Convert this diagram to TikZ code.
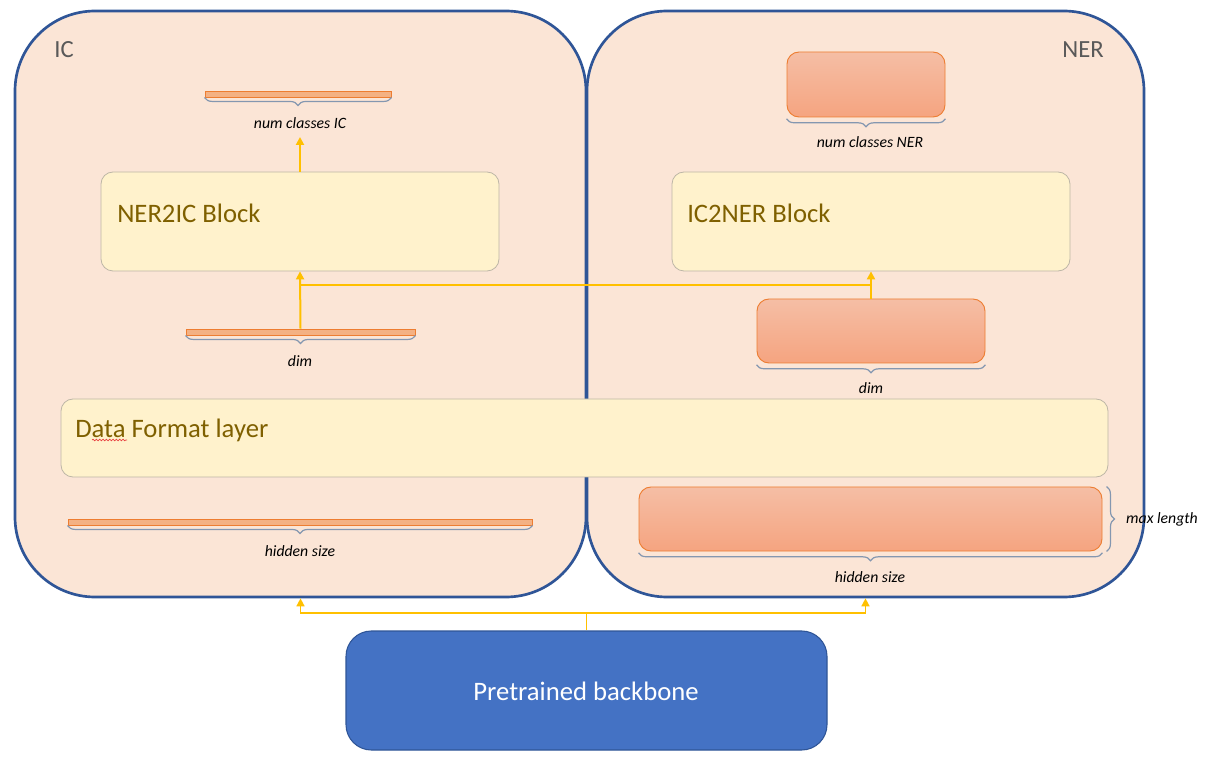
\documentclass[tikz,border=0pt]{standalone}
\usepackage{fontspec}
\setmainfont{Carlito}
\usetikzlibrary{fit,decorations.pathreplacing,decorations.pathmorphing,arrows.meta,calc}
\definecolor{peach}{HTML}{FBE5D6}
\definecolor{navy}{HTML}{2F5597}
\definecolor{cream}{HTML}{FFF2CC}
\definecolor{creamline}{HTML}{BDB6A6}
\definecolor{brown}{HTML}{7F6000}
\definecolor{orng}{HTML}{ED7D31}
\definecolor{salmonT}{HTML}{F5BEA5}
\definecolor{salmonB}{HTML}{F5A480}
\definecolor{barfill}{HTML}{F4B183}
\definecolor{braceg}{HTML}{8497B0}
\definecolor{gold}{HTML}{FFC000}
\definecolor{blueb}{HTML}{4472C4}
\definecolor{graytxt}{HTML}{595959}
\definecolor{spellred}{HTML}{E84040}
\tikzset{
  container/.style={draw=navy, line width=2pt, fill=peach, rounded corners=60pt, inner sep=0pt},
  block/.style={draw=creamline, line width=0.6pt, fill=cream, rounded corners=9pt, inner sep=0pt},
  blocktext/.style={text=brown, font=\fontsize{20}{24}\selectfont, anchor=west, inner sep=0pt},
  tensor/.style={draw=orng, line width=0.7pt, top color=salmonT, bottom color=salmonB, rounded corners=9pt, inner sep=0pt},
  flatbar/.style={draw=orng, line width=0.7pt, fill=barfill, inner sep=0pt},
  brc/.style={draw=braceg, line width=0.9pt, decorate, decoration={brace, mirror, amplitude=6pt}},
  vbrc/.style={draw=braceg, line width=0.9pt, decorate, decoration={brace, amplitude=6pt}},
  lbl/.style={font=\fontsize{11.8}{14}\selectfont\itshape, inner sep=1pt},
  conn/.style={draw=gold, line width=1.5pt},
  arr/.style={conn, -{Triangle[width=6pt,length=6pt]}},
  thinconn/.style={draw=gold, line width=1.1pt},
  thinarr/.style={thinconn, -{Triangle[width=6pt,length=6pt]}},
  title/.style={font=\fontsize{18.5}{22}\selectfont, text=graytxt, inner sep=0pt},
}
\begin{document}
\begin{tikzpicture}[x=0.75pt, y=-0.75pt]
\useasboundingbox[fill=white] (0,0) rectangle (1208,759);

% containers
\node[container, fit={(15,11) (586,597)}] (IC) {};
\node[container, fit={(587,11) (1144,597)}] (NER) {};
\node[title] (tIC) at (64,50) {IC};
\node[title] (tNER) at (1083,50) {NER};

% IC side
\node[flatbar, fit={(205,91) (391,97)}] (barICtop) {};
\draw[brc] (barICtop.south west) -- (barICtop.south east);
\node[lbl] (lICtop) at (300,123) {num classes IC};
\coordinate (cICtop) at (300,137);

\node[block, fit={(101,172) (499,271)}] (NER2IC) {};
\node[blocktext] (tNER2IC) at (117,213) {NER2IC Block};

\node[flatbar, fit={(186,329) (415,335)}] (dimIC) {};
\draw[brc] (dimIC.south west) -- (dimIC.south east);
\node[lbl] (lDimIC) at (300,361) {dim};

\node[flatbar, fit={(68,519) (532,525)}] (hidIC) {};
\draw[brc] (hidIC.south west) -- (hidIC.south east);
\node[lbl] (lHidIC) at (300,551) {hidden size};

% NER side
\node[tensor, fit={(787,52) (945,117)}] (clsNER) {};
\draw[brc] ([yshift=-1]clsNER.south west) -- ([yshift=-1]clsNER.south east);
\node[lbl] (lClsNER) at (870,142) {num classes NER};

\node[block, fit={(672,172) (1070,271)}] (IC2NER) {};
\node[blocktext] (tIC2NER) at (687,213) {IC2NER Block};

\node[tensor, fit={(757,299) (985,363)}] (dimNER) {};
\draw[brc] ([yshift=-1]dimNER.south west) -- ([yshift=-1]dimNER.south east);
\node[lbl] (lDimNER) at (871,388) {dim};

\node[tensor, fit={(639,487) (1102,551)}] (hidNER) {};
\draw[brc] ([yshift=-1]hidNER.south west) -- ([yshift=-1]hidNER.south east);
\node[lbl] (lHidNER) at (870,577) {hidden size};
\draw[vbrc] ([xshift=3]hidNER.north east) -- ([xshift=3]hidNER.south east);
\node[lbl] (lMax) at (1162,519) {max length};

% data format layer
\node[block, fit={(61,399) (1108,477)}] (DF) {};
\node[blocktext] (tDF) at (75,430) {Data Format layer};
\draw[spellred, line width=0.5pt, decorate, decoration={snake, amplitude=0.6pt, segment length=2.5pt}]
  (92,440) -- (127,440);

% backbone
\node[draw=navy, line width=0.8pt, fill=blueb, rounded corners=19pt, inner sep=0pt,
      fit={(346,631) (827,750)}] (BB) {};
\node[text=white, font=\fontsize{20}{24}\selectfont] (tBB) at (586,691) {Pretrained backbone};

% connectors
\draw[arr] (NER2IC.north) -- (cICtop);
\coordinate (jy) at (0,285);
\coordinate (j1) at (NER2IC.south |- jy);
\coordinate (j2) at (IC2NER.south |- jy);
\draw[arr] (dimIC.north) -- (NER2IC.south);
\draw[conn] (j1) -- (j2);
\draw[conn] (dimNER.north) -- (j2);
\draw[arr] (j2) -- (IC2NER.south);

\coordinate (by) at (0,613);
\coordinate (bj) at (BB.north |- by);
\draw[thinconn] (BB.north) -- (bj);
\draw[thinarr] (bj) -| (IC.south);
\draw[thinarr] (bj) -| (NER.south);
\end{tikzpicture}
\end{document}
